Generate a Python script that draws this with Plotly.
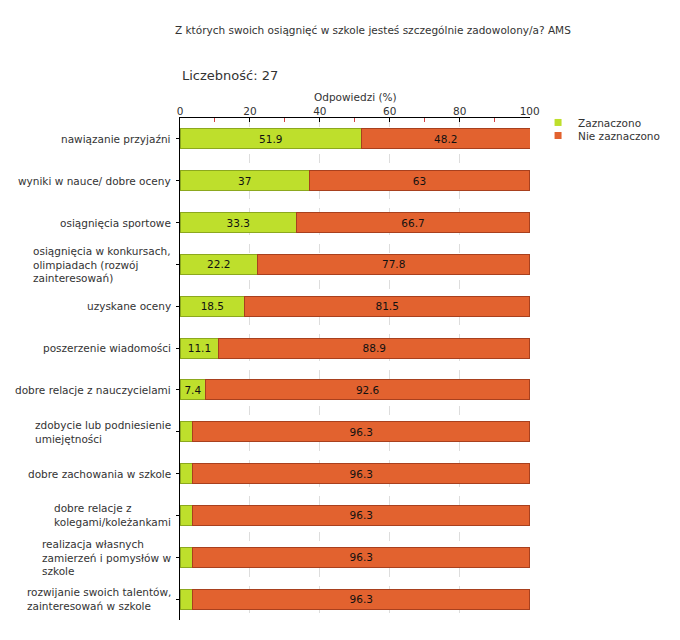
import plotly.graph_objects as go

categories = [
    "nawiązanie przyjaźni",
    "wyniki w nauce/ dobre oceny",
    "osiągnięcia sportowe",
    "osiągnięcia w konkursach,<br>olimpiadach (rozwój<br>zainteresowań)",
    "uzyskane oceny",
    "poszerzenie wiadomości",
    "dobre relacje z nauczycielami",
    "zdobycie lub podniesienie<br>umiejętności",
    "dobre zachowania w szkole",
    "dobre relacje z<br>kolegami/koleżankami",
    "realizacja własnych<br>zamierzeń i pomysłów w<br>szkole",
    "rozwijanie swoich talentów,<br>zainteresowań w szkole",
]
zaznaczono = [51.9, 37, 33.3, 22.2, 18.5, 11.1, 7.4, 3.7, 3.7, 3.7, 3.7, 3.7]
nie_zaznaczono = [48.2, 63, 66.7, 77.8, 81.5, 88.9, 92.6, 96.3, 96.3, 96.3, 96.3, 96.3]
xticks = [0, 20, 40, 60, 80, 100]
minor_ticks = [10, 30, 50, 70, 90]

FONT = "DejaVu Sans"
GREEN = "#BEDF2C"
ORANGE = "#E2622F"
green_text = [str(v) if v >= 5 else "" for v in zaznaczono]
orange_text = [str(v) for v in nie_zaznaczono]

fig = go.Figure()
fig.add_trace(go.Bar(
    y=categories, x=zaznaczono, orientation="h", name="Zaznaczono",
    marker=dict(color=GREEN, line=dict(color="#8CA81E", width=1)),
    text=green_text, textposition="inside", insidetextanchor="middle",
    textfont=dict(family=FONT, size=10.5, color="#111"),
    width=0.48, cliponaxis=False, showlegend=False,
))
fig.add_trace(go.Bar(
    y=categories, x=nie_zaznaczono, orientation="h", name="Nie zaznaczono",
    marker=dict(color=ORANGE, line=dict(color="#A8401E", width=1)),
    text=orange_text, textposition="inside", insidetextanchor="middle",
    textfont=dict(family=FONT, size=10.5, color="#111"),
    width=0.48, cliponaxis=False, showlegend=False,
))
# legend entries with small square markers (two legends for tight spacing)
for name, col, lg in [("Zaznaczono", GREEN, "legend"), ("Nie zaznaczono", ORANGE, "legend2")]:
    fig.add_trace(go.Scatter(
        x=[None], y=[None], mode="markers", name=name, legend=lg,
        marker=dict(symbol="square", size=7, color=col),
    ))

annotations = [
    dict(text="Z których swoich osiągnięć w szkole jesteś szczególnie zadowolony/a? AMS",
         xref="paper", yref="paper", x=-0.02, y=1.0, yshift=88, xanchor="left",
         yanchor="middle", showarrow=False,
         font=dict(family=FONT, size=10.5, color="#333")),
    dict(text="Liczebność: 27", xref="paper", yref="paper", x=0.0, y=1.0, yshift=43,
         xanchor="left", yanchor="middle", showarrow=False,
         font=dict(family=FONT, size=13, color="#333")),
    dict(text="Odpowiedzi (%)", xref="paper", yref="paper", x=0.5, y=1.0, yshift=21,
         xanchor="center", yanchor="middle", showarrow=False,
         font=dict(family=FONT, size=10.5, color="#333")),
]
for cat in categories:
    annotations.append(dict(
        text=cat, xref="paper", yref="y", x=0, y=cat, xshift=-7,
        xanchor="right", yanchor="middle", align="left", showarrow=False,
        font=dict(family=FONT, size=10.5, color="#333"),
    ))

legend_common = dict(xanchor="left", yanchor="top", xref="paper", yref="paper",
                     font=dict(family=FONT, size=10.5, color="#333"),
                     itemwidth=30, bgcolor="rgba(0,0,0,0)")

fig.update_layout(
    width=680, height=640,
    barmode="stack",
    plot_bgcolor="white", paper_bgcolor="white",
    margin=dict(l=180, r=150, t=118, b=20, autoexpand=False),
    font=dict(family=FONT, size=11, color="#333"),
    uniformtext=dict(mode="show", minsize=8),
    showlegend=True,
    legend=dict(x=1.023, y=1.02, **legend_common),
    legend2=dict(x=1.023, y=0.994, **legend_common),
    annotations=annotations,
)
fig.update_xaxes(
    side="top", range=[0, 100.1], tickvals=xticks, ticktext=[str(t) for t in xticks],
    showline=True, linecolor="#000", linewidth=1,
    ticks="inside", ticklen=4, tickcolor="#000",
    minor=dict(tickvals=minor_ticks, ticks="inside", ticklen=4,
               tickcolor="#d04040", showgrid=False),
    showgrid=True, gridcolor="#dddddd", griddash="dash", gridwidth=1,
    zeroline=False,
    ticklabelstandoff=-2,
    tickfont=dict(family=FONT, size=10.5, color="#333"),
)
fig.update_yaxes(
    autorange="reversed", showline=True, linecolor="#000", linewidth=1,
    ticks="outside", ticklen=3, tickcolor="#000",
    showticklabels=False,
    showgrid=False,
)

fig.write_html("out.html")
